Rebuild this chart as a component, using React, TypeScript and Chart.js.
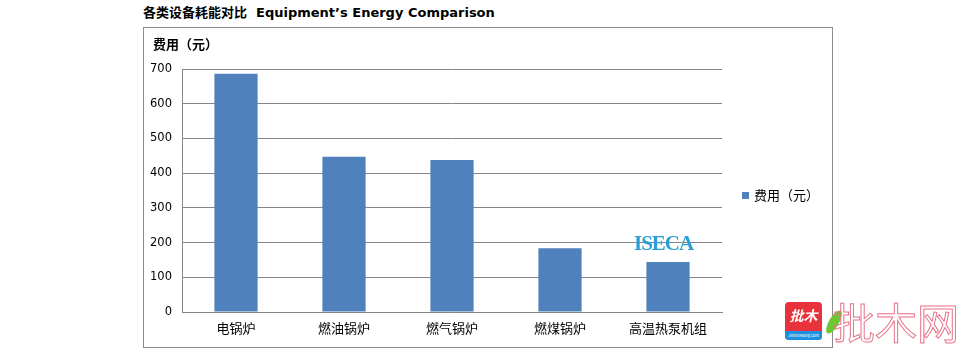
import React, { useEffect, useRef } from "react";
import { Chart, registerables } from "chart.js";

Chart.register(...registerables);

const categories = ["电锅炉", "燃油锅炉", "燃气锅炉", "燃煤锅炉", "高温热泵机组"];
const costValues = [686, 447, 438, 184, 144];
const seriesName = "费用（元）";
const yTicks = [0, 100, 200, 300, 400, 500, 600, 700];
const titleCn = "各类设备耗能对比";
const titleEn = "Equipment’s Energy Comparison";

const FONT = "'Noto Sans CJK SC', 'Noto Sans', sans-serif";

export default function App() {
  const ref = useRef<HTMLCanvasElement>(null);
  useEffect(() => {
    if (!ref.current) return;
    const chart = new Chart(ref.current, {
      type: "bar",
      data: {
        labels: categories,
        datasets: [
          {
            label: seriesName,
            data: costValues,
            backgroundColor: "#4f81bd",
            borderWidth: 0,
            barPercentage: 0.4,
            categoryPercentage: 1,
          },
        ],
      },
      options: {
        responsive: false,
        animation: false,
        devicePixelRatio: 1,
        layout: { padding: { left: 0, right: 110, top: 41, bottom: 0 } },
        plugins: {
          legend: { display: false },
          title: { display: false },
          tooltip: { enabled: false },
        },
        scales: {
          x: {
            grid: { display: false, drawTicks: false },
            border: { display: true, color: "#868686", width: 1 },
            ticks: { color: "#000", font: { family: FONT, size: 13 }, padding: 8 },
            afterFit: (s: any) => {
              s.height = 35;
            },
          },
          y: {
            min: 0,
            max: 700,
            afterBuildTicks: (s: any) => {
              s.ticks = yTicks.map((v) => ({ value: v }));
            },
            grid: { color: "#868686", drawTicks: false, lineWidth: 1 },
            border: { display: true, color: "#868686", width: 1 },
            ticks: { color: "#000", font: { family: "'DejaVu Sans', sans-serif", size: 11.5 }, padding: 10 },
            afterFit: (s: any) => {
              s.width = 38;
            },
          },
        },
      },
    });
    return () => chart.destroy();
  }, []);

  return (
    <div style={{ fontFamily: FONT }}>
      <div
        style={{
          position: "absolute",
          left: 143,
          top: 3,
          fontWeight: "bold",
          fontSize: 13,
          color: "#000",
          whiteSpace: "pre",
          lineHeight: "18px",
        }}
      >
        {titleCn}
        <span style={{ fontFamily: "'DejaVu Sans', sans-serif", fontSize: 13, marginLeft: 9 }}>{titleEn}</span>
      </div>
      <div
        style={{
          position: "absolute",
          left: 143,
          top: 27,
          width: 688,
          height: 319,
          border: "1px solid #8c8c8c",
          background: "#fff",
        }}
      >
        <canvas ref={ref} width={688} height={319} style={{ display: "block" }} />
        <div
          style={{
            position: "absolute",
            left: 9,
            top: 7,
            fontWeight: "bold",
            fontSize: 13,
            lineHeight: "18px",
          }}
        >
          {seriesName}
        </div>
        <div
          style={{
            position: "absolute",
            left: 598,
            top: 158,
            fontSize: 13,
            lineHeight: "18px",
            display: "flex",
            alignItems: "center",
          }}
        >
          <span style={{ width: 7, height: 7, background: "#4f81bd", display: "inline-block", marginRight: 5 }} />
          {seriesName}
        </div>
      </div>
      <div
        style={{
          position: "absolute",
          left: 634,
          top: 231,
          fontFamily: "'Liberation Serif', serif",
          fontWeight: "bold",
          fontSize: 21,
          color: "#2a9fd6",
          letterSpacing: -1,
          lineHeight: "24px",
        }}
      >
        ISECA
      </div>
      <div
        style={{
          position: "absolute",
          left: 785,
          top: 302,
          width: 37,
          height: 38,
          borderRadius: 4,
          background: "#e8323c",
          overflow: "hidden",
        }}
      >
        <div style={{ color: "#fff", fontWeight: "bold", fontStyle: "italic", fontSize: 14, textAlign: "center", lineHeight: "26px" }}>
          批木
        </div>
        <div style={{ position: "absolute", left: 0, bottom: 0, width: 37, height: 9, background: "#1e90e0", color: "#fff", fontSize: 4, textAlign: "center", lineHeight: "9px" }}>
          Jiemuwang.com
        </div>
      </div>
      <div
        style={{
          position: "absolute",
          left: 829,
          top: 309,
          width: 10,
          height: 26,
          borderRadius: "50%",
          background: "#6cc832",
          transform: "rotate(30deg)",
        }}
      />
      <div
        style={{
          position: "absolute",
          left: 833,
          top: 296,
          fontSize: 42,
          lineHeight: "50px",
          color: "rgba(255,255,255,0)",
          WebkitTextStroke: "1px #e8748a",
          letterSpacing: 0,
        }}
      >
        批木网
      </div>
    </div>
  );
}
